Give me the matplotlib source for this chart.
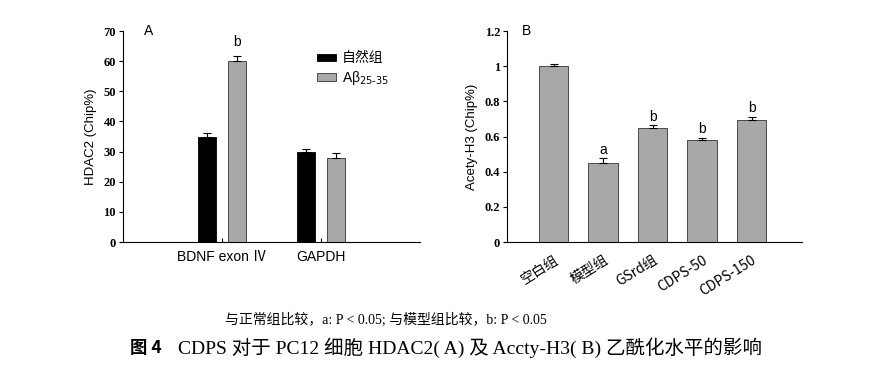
import numpy as np
import matplotlib
matplotlib.use("Agg")
import matplotlib.pyplot as plt

# ── data ──────────────────────────────────────────────
genes      = ["BDNF exon Ⅳ", "GAPDH"]
natural    = [35.0, 30.0]
natural_er = [1.0, 1.0]
abeta      = [60.0, 28.0]
abeta_er   = [1.6, 1.4]
sig_a      = ["b", ""]

groups     = ["空白组", "模型组", "GSrd组", "CDPS-50", "CDPS-150"]
acety      = [1.0, 0.45, 0.65, 0.58, 0.695]
acety_er   = [0.010, 0.025, 0.013, 0.012, 0.018]
sig_b      = ["", "a", "b", "b", "b"]

BLACK = "#000000"
GREY  = "#a8a8a8"
SANS  = ["Liberation Sans", "Noto Sans CJK SC"]
SERIF = ["Liberation Serif", "Noto Sans CJK SC"]
CJK   = ["Noto Sans CJK SC", "Liberation Sans"]

fig = plt.figure(figsize=(8.74, 3.81), dpi=100)

def style_axes(ax):
    ax.spines["top"].set_visible(False)
    ax.spines["right"].set_visible(False)
    for s in ("left", "bottom"):
        ax.spines[s].set_linewidth(0.8)
    ax.tick_params(axis="y", direction="out", length=3, width=0.8, pad=2)
    for lab in ax.get_yticklabels():
        lab.set_fontfamily("Liberation Serif")
        lab.set_fontweight("bold")
        lab.set_fontsize(9)

# ── Panel A ───────────────────────────────────────────
axA = fig.add_axes([0.1407, 0.3648, 0.3398, 0.5538])
x = np.arange(1, len(genes) + 1)
w, off = 0.18, 0.15
axA.bar(x - off, natural, w, color=BLACK, edgecolor=BLACK, linewidth=0.6,
        label="自然组", zorder=2)
axA.bar(x + off, abeta, w, color=GREY, edgecolor="#333333", linewidth=0.6,
        label=r"Aβ$_{25\text{-}35}$", zorder=2)
axA.errorbar(x - off, natural, yerr=[np.zeros(len(x)), natural_er], fmt="none",
             ecolor=BLACK, elinewidth=0.8, capsize=3, capthick=0.8, zorder=3)
axA.errorbar(x + off, abeta, yerr=[np.zeros(len(x)), abeta_er], fmt="none",
             ecolor=BLACK, elinewidth=0.8, capsize=3, capthick=0.8, zorder=3)
for xi, v, e, s in zip(x + off, abeta, abeta_er, sig_a):
    if s:
        axA.text(xi, v + e + 2.5, s, ha="center", va="bottom",
                 family="Liberation Sans", fontsize=10)
axA.set_xlim(0, 3)
axA.set_ylim(0, 70)
axA.set_yticks(range(0, 71, 10))
axA.set_xticks(x)
axA.set_xticklabels(genes, family=SANS, fontsize=10)
axA.tick_params(axis="x", direction="in", length=3, width=0.8, pad=6)
axA.set_ylabel("HDAC2 (Chip%)", family="Liberation Sans", fontsize=9.5, labelpad=5)
style_axes(axA)
axA.text(0.07, 1.0, "A", transform=axA.transAxes, family="Liberation Sans",
         fontsize=10, va="center")
leg = axA.legend(loc="upper left", bbox_to_anchor=(0.635, 0.93), frameon=False,
                 handlelength=1.35, handleheight=0.45, handletextpad=0.45,
                 labelspacing=0.25, borderaxespad=0,
                 prop={"family": CJK, "size": 10})
leg.get_texts()[1].set_fontfamily("Liberation Sans")

# ── Panel B ───────────────────────────────────────────
axB = fig.add_axes([0.5801, 0.3648, 0.3375, 0.5538])
xb = np.arange(len(groups))
axB.bar(xb, acety, 0.6, color=GREY, edgecolor="#333333", linewidth=0.6, zorder=2)
axB.errorbar(xb, acety, yerr=[np.zeros(len(xb)), acety_er], fmt="none",
             ecolor=BLACK, elinewidth=0.8, capsize=3, capthick=0.8, zorder=3)
for xi, v, e, s in zip(xb, acety, acety_er, sig_b):
    if s:
        axB.text(xi, v + e + 0.01, s, ha="center", va="bottom",
                 family="Liberation Sans", fontsize=10)
axB.set_xlim(-0.94, 5.02)
axB.set_ylim(0, 1.2)
axB.set_yticks([0, 0.2, 0.4, 0.6, 0.8, 1.0, 1.2])
axB.set_yticklabels(["0", "0.2", "0.4", "0.6", "0.8", "1", "1.2"])
axB.set_xticks(xb)
axB.set_xticklabels(groups, family=CJK, fontsize=10, rotation=32,
                    ha="right", rotation_mode="anchor")
axB.tick_params(axis="x", length=0, pad=8)
axB.set_ylabel("Acety-H3 (Chip%)", family="Liberation Sans", fontsize=9.5, labelpad=5)
style_axes(axB)
axB.text(0.05, 1.0, "B", transform=axB.transAxes, family="Liberation Sans",
         fontsize=10, va="center")

# ── captions ──────────────────────────────────────────
fig.text(0.442, 1 - 320 / 381, "与正常组比较，a: P < 0.05; 与模型组比较，b: P < 0.05",
         ha="center", va="center", family=SERIF, fontsize=10)
fig.text(130 / 874, 1 - 348 / 381, "图 4", ha="left", va="center",
         family=CJK, fontweight="bold", fontsize=12.5)
fig.text(178 / 874, 1 - 348 / 381,
         "CDPS 对于 PC12 细胞 HDAC2( A) 及 Accty-H3( B) 乙酰化水平的影响",
         ha="left", va="center", family=SERIF, fontsize=14)

fig.savefig("out.png", dpi=100, facecolor="white")
